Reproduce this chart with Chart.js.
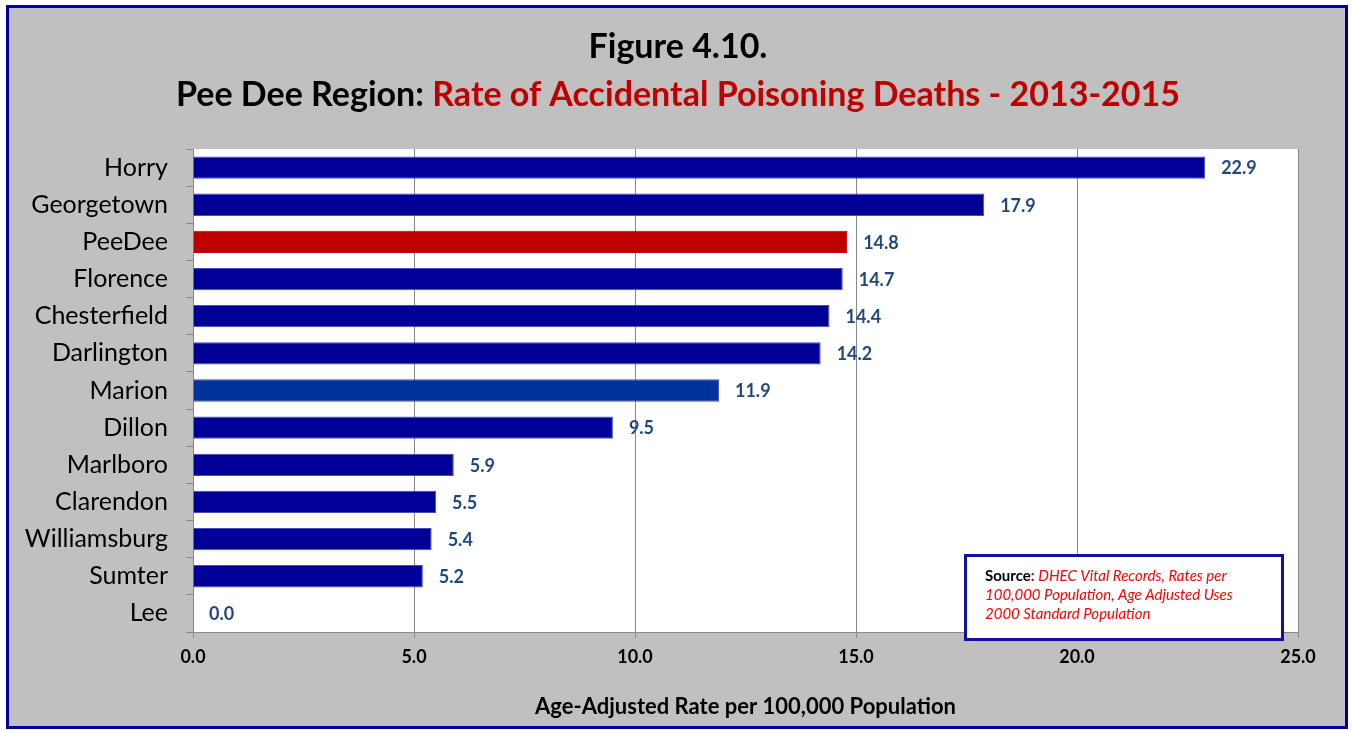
<!DOCTYPE html>
<html>
<head>
<meta charset="utf-8">
<script src="https://cdn.jsdelivr.net/npm/chart.js@4/dist/chart.umd.min.js"></script>
<style>
  html, body { margin: 0; padding: 0; background: #ffffff; }
  canvas { display: block; }
</style>
</head>
<body>
<canvas id="chart" width="1354" height="730"></canvas>
<script>
// Counties of the Pee Dee region, sorted by rate
const counties = ['Horry', 'Georgetown', 'PeeDee', 'Florence', 'Chesterfield', 'Darlington',
  'Marion', 'Dillon', 'Marlboro', 'Clarendon', 'Williamsburg', 'Sumter', 'Lee'];
// Age-adjusted accidental poisoning death rate per 100,000 (2013-2015)
const rates = [22.9, 17.9, 14.8, 14.7, 14.4, 14.2, 11.9, 9.5, 5.9, 5.5, 5.4, 5.2, 0.0];
// Value axis range and tick spacing
const axisMin = 0;
const axisMax = 25;
const axisStep = 5;

const titleLine1 = 'Figure 4.10.';
const titleLine2a = 'Pee Dee Region:';
const titleLine2b = ' Rate of Accidental Poisoning Deaths - 2013-2015';
const axisTitle = 'Age-Adjusted Rate per 100,000 Population';
const sourceLabel = 'Source';
const sourceLines = ['DHEC Vital Records, Rates per', '100,000 Population, Age Adjusted Uses', '2000 Standard Population'];

const FONT = 'Lato, "Open Sans", sans-serif';
const NAVY = '#000099';

function barColor(name) {
  if (name === 'PeeDee') return '#c00000';
  if (name === 'Marion') return '#003399';
  return NAVY;
}

// Frame, grey panel and white plot background
const backgroundPlugin = {
  id: 'panelBackground',
  beforeDraw(chart) {
    const ctx = chart.ctx;
    const { left, top, right, bottom } = chart.chartArea;
    ctx.save();
    ctx.fillStyle = '#ffffff';
    ctx.fillRect(0, 0, chart.width, chart.height);
    ctx.fillStyle = '#c0c0c0';
    ctx.fillRect(7, 6, 1341, 723);
    ctx.strokeStyle = '#0000a0';
    ctx.lineWidth = 3;
    ctx.strokeRect(7.5, 6.5, 1339, 721);
    ctx.fillStyle = '#ffffff';
    ctx.fillRect(left, top, right - left, bottom - top);
    ctx.restore();
  }
};

// Two-line heading, second line in two colours
const headingPlugin = {
  id: 'heading',
  afterDraw(chart) {
    const ctx = chart.ctx;
    const cx = 678;
    ctx.save();
    ctx.textBaseline = 'middle';
    ctx.font = 'bold 34px ' + FONT;
    ctx.fillStyle = '#000000';
    ctx.textAlign = 'center';
    ctx.fillText(titleLine1, cx, 47);
    const wa = ctx.measureText(titleLine2a).width;
    const wb = ctx.measureText(titleLine2b).width;
    const x0 = cx - (wa + wb) / 2;
    ctx.textAlign = 'left';
    ctx.fillStyle = '#000000';
    ctx.fillText(titleLine2a, x0, 95);
    ctx.fillStyle = '#c00000';
    ctx.fillText(titleLine2b, x0 + wa, 95);
    ctx.restore();
  }
};

// Value labels placed just past the end of each bar
const valueLabelPlugin = {
  id: 'valueLabels',
  afterDatasetsDraw(chart) {
    const ctx = chart.ctx;
    const meta = chart.getDatasetMeta(0);
    ctx.save();
    ctx.font = 'bold 18px ' + FONT;
    ctx.fillStyle = '#1f497d';
    ctx.textAlign = 'left';
    ctx.textBaseline = 'middle';
    meta.data.forEach((bar, i) => {
      const v = chart.data.datasets[0].data[i];
      ctx.fillText(v.toFixed(1), bar.x + 16, bar.y + 1);
    });
    ctx.restore();
  }
};

// Source note box in the lower right corner
const sourcePlugin = {
  id: 'sourceNote',
  afterDraw(chart) {
    const ctx = chart.ctx;
    ctx.save();
    ctx.fillStyle = '#ffffff';
    ctx.fillRect(965, 555, 318, 85);
    ctx.strokeStyle = '#1010a0';
    ctx.lineWidth = 3;
    ctx.strokeRect(965.5, 555.5, 317, 84);
    ctx.textBaseline = 'middle';
    ctx.textAlign = 'left';
    ctx.font = 'bold 15px ' + FONT;
    ctx.fillStyle = '#000000';
    ctx.fillText(sourceLabel, 985, 576);
    let x = 985 + ctx.measureText(sourceLabel).width;
    ctx.fillStyle = '#c00000';
    ctx.fillText(':', x, 576);
    x += ctx.measureText(': ').width;
    ctx.font = 'italic 15px ' + FONT;
    ctx.fillStyle = '#ff0000';
    ctx.fillText(sourceLines[0], x, 576);
    ctx.fillText(sourceLines[1], 985, 595);
    ctx.fillText(sourceLines[2], 985, 614);
    ctx.restore();
  }
};

new Chart(document.getElementById('chart'), {
  type: 'bar',
  data: {
    labels: counties,
    datasets: [{
      data: rates,
      backgroundColor: counties.map(barColor),
      borderColor: counties.map(c => c === 'PeeDee' ? '#c00000' : '#4a4ab8'),
      borderWidth: 1,
      barPercentage: 0.6,
      categoryPercentage: 1.0
    }]
  },
  options: {
    indexAxis: 'y',
    responsive: false,
    animation: false,
    devicePixelRatio: 1,
    layout: { padding: { top: 149, left: 0, right: 56, bottom: 0 } },
    plugins: {
      legend: { display: false },
      title: { display: false },
      tooltip: { enabled: false }
    },
    scales: {
      x: {
        min: axisMin,
        max: axisMax,
        afterFit(scale) { scale.height = 98; },
        ticks: {
          stepSize: axisStep,
          padding: 8,
          color: '#000000',
          font: { family: FONT, size: 18, weight: 'bold' },
          callback: v => Number(v).toFixed(1)
        },
        grid: { color: '#888888', lineWidth: 1, tickLength: 6 },
        border: { color: '#888888', width: 1 },
        title: {
          display: true,
          text: axisTitle,
          color: '#000000',
          font: { family: FONT, size: 22, weight: 'bold' },
          padding: { top: 0, bottom: 10 }
        }
      },
      y: {
        afterFit(scale) { scale.width = 193; },
        ticks: {
          padding: 18,
          color: '#000000',
          font: { family: FONT, size: 25 }
        },
        grid: { drawOnChartArea: false, color: '#888888', tickLength: 7, offset: true },
        border: { color: '#888888', width: 1 }
      }
    }
  },
  plugins: [backgroundPlugin, valueLabelPlugin, headingPlugin, sourcePlugin]
});
</script>
</body>
</html>
